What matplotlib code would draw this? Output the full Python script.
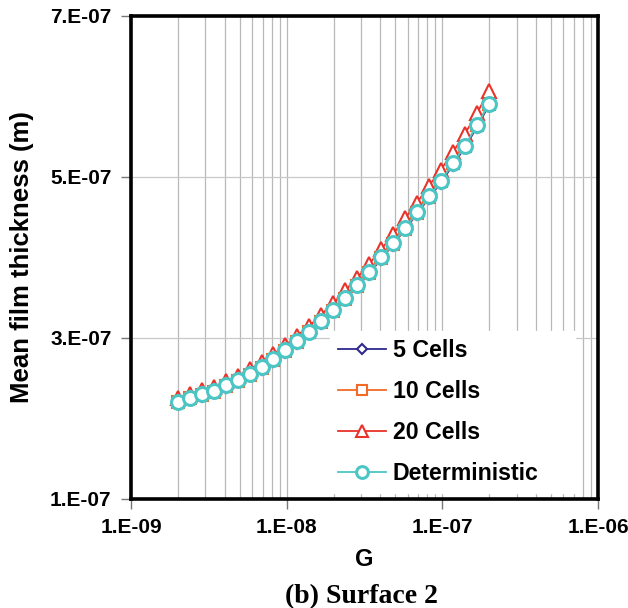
import numpy as np
import matplotlib
matplotlib.use("Agg")
import matplotlib.pyplot as plt
from matplotlib.ticker import FixedLocator, FixedFormatter, LogLocator, NullFormatter

plt.rcParams['font.family'] = ['Liberation Sans', 'DejaVu Sans']
plt.rcParams['font.weight'] = 'bold'

# G values (log spaced)
G = [2.00e-9, 2.39e-9, 2.85e-9, 3.40e-9, 4.06e-9, 4.84e-9, 5.78e-9, 6.90e-9, 8.23e-9,
     9.82e-9, 1.17e-8, 1.40e-8, 1.67e-8, 1.99e-8, 2.38e-8, 2.84e-8, 3.39e-8, 4.04e-8,
     4.83e-8, 5.76e-8, 6.87e-8, 8.20e-8, 9.79e-8, 1.17e-7, 1.40e-7, 1.67e-7, 1.99e-7]

# mean film thickness, in units of 1e-7 m
cells5 = [2.20, 2.24, 2.28, 2.33, 2.39, 2.46, 2.54, 2.62, 2.72, 2.83, 2.94, 3.06, 3.19,
          3.33, 3.48, 3.64, 3.80, 3.98, 4.16, 4.35, 4.54, 4.74, 4.93, 5.15, 5.37, 5.62, 5.89]
cells10 = [2.20, 2.25, 2.29, 2.33, 2.40, 2.47, 2.54, 2.63, 2.73, 2.84, 2.95, 3.07, 3.20,
           3.34, 3.49, 3.65, 3.81, 3.99, 4.17, 4.36, 4.55, 4.75, 4.95, 5.17, 5.39, 5.64, 5.91]
cells20 = [2.25, 2.30, 2.35, 2.39, 2.46, 2.53, 2.61, 2.70, 2.80, 2.91, 3.03, 3.15, 3.29,
           3.43, 3.59, 3.75, 3.92, 4.10, 4.29, 4.49, 4.68, 4.89, 5.09, 5.31, 5.54, 5.79, 6.07]
determ = [2.21, 2.26, 2.30, 2.34, 2.41, 2.48, 2.55, 2.64, 2.74, 2.85, 2.96, 3.08, 3.21,
          3.35, 3.50, 3.66, 3.82, 4.00, 4.18, 4.37, 4.56, 4.76, 4.95, 5.17, 5.39, 5.64, 5.91]

xticks = [1e-9, 1e-8, 1e-7, 1e-6]
xtick_labels = ["1.E-09", "1.E-08", "1.E-07", "1.E-06"]
yticks = [1e-7, 3e-7, 5e-7, 7e-7]
ytick_labels = ["1.E-07", "3.E-07", "5.E-07", "7.E-07"]

fig = plt.figure(figsize=(6.28, 6.08), dpi=100)
ax = fig.add_axes([0.2086, 0.1793, 0.7436, 0.7944])

ax.plot(G, np.array(cells5) * 1e-7, color='#2e2a8c', lw=1.3, marker='D', ms=6.5,
        mfc='white', mec='#2e2a8c', mew=1.5, label='5 Cells', zorder=3)
ax.plot(G, np.array(cells10) * 1e-7, color='#f26a2a', lw=1.3, marker='s', ms=9,
        mfc='white', mec='#f26a2a', mew=1.5, label='10 Cells', zorder=4)
ax.plot(G, np.array(cells20) * 1e-7, color='#e8332a', lw=1.3, marker='^', ms=10,
        mfc='white', mec='#e8332a', mew=1.5, label='20 Cells', zorder=5)
ax.plot(G, np.array(determ) * 1e-7, color='#4cc5c5', lw=1.3, marker='o', ms=10,
        mfc='white', mec='#4cc5c5', mew=2.2, label='Deterministic', zorder=6)

ax.set_xscale('log')
ax.set_xlim(1e-9, 1e-6)
ax.set_ylim(1e-7, 7e-7)
ax.xaxis.set_major_locator(FixedLocator(xticks))
ax.xaxis.set_major_formatter(FixedFormatter(xtick_labels))
ax.xaxis.set_minor_locator(LogLocator(base=10, subs=np.arange(2, 10)))
ax.xaxis.set_minor_formatter(NullFormatter())
ax.yaxis.set_major_locator(FixedLocator(yticks))
ax.yaxis.set_major_formatter(FixedFormatter(ytick_labels))

ax.grid(True, which='both', axis='x', color='#b8b8b8', lw=0.9)
ax.grid(True, which='major', axis='y', color='#c8c8c8', lw=0.9)
ax.set_axisbelow(True)

ax.tick_params(which='major', direction='out', length=7, width=1, color='#777777',
               labelsize=15, pad=7)
ax.tick_params(which='minor', length=0)
for lab in ax.get_xticklabels() + ax.get_yticklabels():
    lab.set_fontweight('bold')

for sp in ax.spines.values():
    sp.set_linewidth(2.6)
    sp.set_color('black')
    sp.set_zorder(10)

ax.set_xlabel('G', fontsize=17, fontweight='bold', va='center')
ax.set_ylabel('Mean film thickness (m)', fontsize=18.5, fontweight='bold', va='center')
ax.xaxis.set_label_coords(0.5, -0.126)
ax.yaxis.set_label_coords(-0.233, 0.5)

leg = ax.legend(loc='lower left', bbox_to_anchor=(0.426, 0.0124, 0.525, 0.33),
                mode='expand', borderaxespad=0, frameon=True, markerscale=0.85,
                fancybox=False, framealpha=1, edgecolor='white',
                handlelength=2.07, handletextpad=0.3, labelspacing=0.78,
                borderpad=0.33, prop={'weight': 'bold', 'size': 16.7})
leg.set_zorder(8)

fig.text(0.575, 0.008, '(b) Surface 2', ha='center', va='baseline',
         fontsize=20, fontweight='bold', family='Liberation Serif')

fig.savefig('out.png', dpi=100)
